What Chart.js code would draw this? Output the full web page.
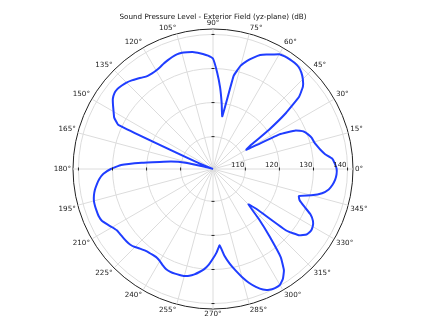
<!DOCTYPE html>
<html>
<head>
<meta charset="utf-8">
<script src="https://cdn.jsdelivr.net/npm/chart.js@4.4.1/dist/chart.umd.min.js"></script>
<style>
  html, body { margin: 0; padding: 0; background: #fff; }
</style>
</head>
<body>
<canvas id="chart" width="434" height="327"></canvas>
<script>
// Sound pressure level vs angle (degrees, counter-clockwise from the right)
const titleText = 'Sound Pressure Level - Exterior Field (yz-plane) (dB)';

const angles = [
  0, 2.5, 5, 7.5, 10, 12.5, 15, 17.5, 20, 22.5, 25, 27.5,
  30, 32.5, 35, 37.5, 40, 42.5, 45, 47.5, 50, 52.5, 55, 57.5,
  60, 62.5, 65, 67.5, 70, 72.5, 75, 77.5, 80, 82.5, 85, 87.5,
  90, 92.5, 95, 97.5, 100, 102.5, 105, 107.5, 110, 112.5, 115, 117.5,
  120, 122.5, 125, 127.5, 130, 132.5, 135, 137.5, 140, 142.5, 145, 147.5,
  150, 152.5, 155, 157.5, 160, 162.5, 165, 167.5, 170, 172.5, 175, 177.5,
  180, 182.5, 185, 187.5, 190, 192.5, 195, 197.5, 200, 202.5, 205, 207.5,
  210, 212.5, 215, 217.5, 220, 222.5, 225, 227.5, 230, 232.5, 235, 237.5,
  240, 242.5, 245, 247.5, 250, 252.5, 255, 257.5, 260, 262.5, 265, 267.5,
  270, 272.5, 275, 277.5, 280, 282.5, 285, 287.5, 290, 292.5, 295, 297.5,
  300, 302.5, 305, 307.5, 310, 312.5, 315, 317.5, 320, 322.5, 325, 327.5,
  330, 332.5, 335, 337.5, 340, 342.5, 345, 347.5, 350, 352.5, 355, 357.5
];

const splValues = [
  136.8, 136.3, 135.6, 133.7, 132.6, 131.8, 131.2, 130.9, 130.2, 129.3, 127.3, 122.5,
  111.8, 114.0, 120.5, 127.5, 133.5, 136.3, 137.8, 138.9, 139.6, 139.8, 139.8, 139.7,
  139.4, 138.4, 137.6, 136.7, 135.3, 133.8, 131.9, 128.5, 116.2, 120.0, 124.5, 128.8,
  132.9, 133.8, 134.4, 134.9, 135.4, 135.6, 135.8, 135.8, 135.5, 135.1, 134.7, 134.2,
  133.9, 133.8, 133.9, 134.4, 135.1, 135.8, 136.4, 136.8, 137.1, 137.0, 136.4, 135.3,
  134.2, 133.2, 131.2, 105.0, 100.5, 100.5, 103.0, 109.3, 113.0, 116.3, 121.5, 127.5,
  130.5, 132.7, 134.0, 134.9, 135.7, 136.3, 136.7, 136.8, 136.8, 136.8, 136.5, 135.6,
  134.7, 134.0, 133.8, 133.7, 133.6, 133.4, 132.9, 132.2, 131.7, 131.4, 131.3, 131.3,
  131.7, 132.4, 133.0, 133.2, 133.2, 133.1, 133.0, 132.6, 131.9, 131.0, 130.0, 128.6,
  126.8, 125.0, 123.0, 126.2, 128.7, 131.0, 133.3, 135.5, 137.3, 138.8, 139.6, 139.9,
  139.8, 138.7, 136.8, 133.2, 126.3, 120.5, 115.2, 118.0, 128.7, 132.5, 134.0, 134.5,
  134.3, 133.6, 132.1, 129.6, 127.6, 126.9, 130.4, 133.3, 135.0, 135.9, 136.5, 136.8
];

const thetaTicks = [0, 15, 30, 45, 60, 75, 90, 105, 120, 135, 150, 165,
                    180, 195, 210, 225, 240, 255, 270, 285, 300, 315, 330, 345];
const rTicks = [110, 120, 130, 140];
const rMin = 100.5;
const rMax = 141.6;

// radar runs clockwise from startAngle, so feed the angles backwards from 0°
const order = angles.map(a => (360 - a) % 360).map(a => angles.indexOf(a));
const labels = order.map(i => angles[i]);
const values = order.map(i => splValues[i]);

const fontFamily = '"DejaVu Sans", sans-serif';

// angle labels, r tick labels and the little tick marks, placed like matplotlib does
const polarLabels = {
    id: 'polarLabels',
    afterDraw(chart) {
        const scale = chart.scales.r;
        const ctx = chart.ctx;
        const cx = scale.xCenter;
        const cy = scale.yCenter;
        ctx.save();
        ctx.fillStyle = '#222';
        ctx.font = '7.2px ' + fontFamily;

        thetaTicks.forEach(t => {
            const idx = chart.data.labels.indexOf(t);
            const p = scale.getPointPosition(idx, scale.drawingArea + 2);
            const c = Math.cos(t * Math.PI / 180);
            const s = Math.sin(t * Math.PI / 180);
            ctx.textAlign = c > 0.01 ? 'left' : (c < -0.01 ? 'right' : 'center');
            ctx.textBaseline = s > 0.01 ? 'bottom' : (s < -0.01 ? 'top' : 'middle');
            ctx.fillText(t + '°', p.x, p.y);
        });

        ctx.strokeStyle = '#222';
        ctx.lineWidth = 1;
        rTicks.forEach(v => {
            const d = scale.getDistanceFromCenterForValue(v);
            ctx.beginPath();
            ctx.moveTo(cx + d, cy - 1.5); ctx.lineTo(cx + d, cy + 1.5);
            ctx.moveTo(cx - d, cy - 1.5); ctx.lineTo(cx - d, cy + 1.5);
            ctx.moveTo(cx - 1.5, cy - d); ctx.lineTo(cx + 1.5, cy - d);
            ctx.moveTo(cx - 1.5, cy + d); ctx.lineTo(cx + 1.5, cy + d);
            ctx.stroke();
        });

        ctx.textAlign = 'right';
        ctx.textBaseline = 'bottom';
        ctx.font = '7px ' + fontFamily;
        rTicks.forEach(v => {
            const d = scale.getDistanceFromCenterForValue(v);
            ctx.fillText(String(v), cx + d - 1, cy - 0.5);
        });
        ctx.restore();
    }
};

new Chart(document.getElementById('chart'), {
    type: 'radar',
    data: {
        labels: labels,
        datasets: [{
            data: values,
            borderColor: '#1f3dff',
            borderWidth: 2,
            fill: false,
            pointRadius: 0,
            pointHoverRadius: 0,
            tension: 0.1
        }]
    },
    options: {
        responsive: false,
        animation: false,
        events: [],
        layout: { padding: { left: 72, right: 80, top: 0, bottom: 17 } },
        plugins: {
            legend: { display: false },
            tooltip: { enabled: false },
            title: {
                display: true,
                text: titleText,
                color: '#111',
                font: { family: fontFamily, size: 7.2, weight: 'normal' },
                padding: { top: 12.5, bottom: 7.1 }
            }
        },
        scales: {
            r: {
                min: rMin,
                max: rMax,
                startAngle: 90,
                afterBuildTicks: (scale) => {
                    scale.ticks = [rMin, ...rTicks, rMax].map(v => ({ value: v }));
                },
                ticks: { display: false },
                pointLabels: { display: false },
                grid: {
                    circular: true,
                    color: (c) => (c.tick && c.tick.value >= rMax ? '#222' : '#dcdcdc'),
                    lineWidth: 1
                },
                angleLines: {
                    // one spoke every 15° (every 6th 2.5° step)
                    color: (c) => (c.index % 6 === 0 ? '#dcdcdc' : 'rgba(0,0,0,0)'),
                    lineWidth: 1
                }
            }
        }
    },
    plugins: [polarLabels]
});
</script>
</body>
</html>
